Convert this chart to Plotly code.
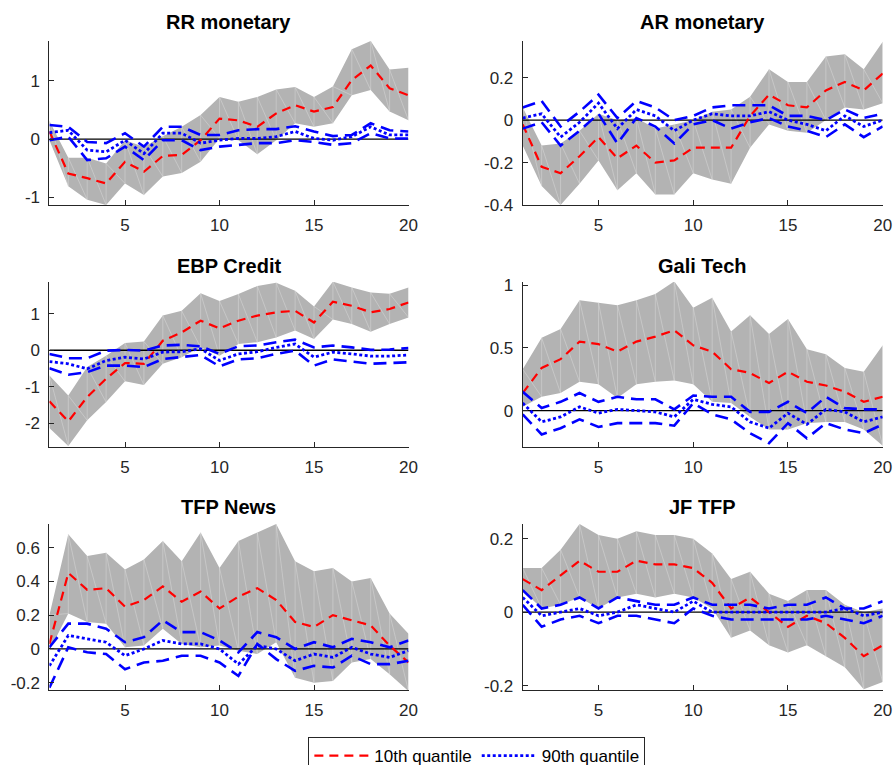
import plotly.graph_objects as go

W, H = 893, 765

x = list(range(1, 21))

titles = ["RR monetary", "AR monetary", "EBP Credit", "Gali Tech", "TFP News", "JF TFP"]
xtick_vals = [5, 10, 15, 20]

# ---------------- RR monetary ----------------
rr_band_hi = [0.31, -0.32, -0.32, -0.42, -0.02, -0.13, 0.05, 0.21, 0.41, 0.72, 0.64, 0.72, 0.85, 0.89, 0.72, 0.90, 1.54, 1.68, 1.19, 1.22]
rr_band_lo = [-0.02, -0.81, -1.04, -1.13, -0.76, -0.96, -0.64, -0.58, -0.39, 0.01, -0.02, -0.26, -0.02, 0.27, 0.21, 0.27, 0.75, 0.84, 0.47, 0.32]
rr_q10 = [0.13, -0.59, -0.67, -0.76, -0.39, -0.56, -0.29, -0.27, -0.02, 0.35, 0.32, 0.21, 0.44, 0.58, 0.47, 0.55, 1.01, 1.26, 0.87, 0.75]
rr_q90 = [0.11, 0.15, -0.19, -0.22, -0.02, -0.25, 0.10, 0.10, -0.07, -0.02, 0.01, 0.01, 0.04, 0.13, 0.01, -0.02, 0.04, 0.21, 0.07, 0.07]
rr_q90_hi = [0.24, 0.21, -0.05, -0.07, 0.10, -0.13, 0.21, 0.21, 0.07, 0.07, 0.15, 0.17, 0.17, 0.22, 0.13, 0.05, 0.07, 0.27, 0.15, 0.13]
rr_q90_lo = [-0.02, 0.04, -0.36, -0.33, -0.13, -0.36, -0.02, -0.02, -0.19, -0.13, -0.10, -0.07, -0.07, -0.02, -0.05, -0.10, -0.07, 0.10, 0.01, 0.01]
rr_yticks = [-1, 0, 1]
rr_yticktext = ["-1", "0", "1"]

# ---------------- AR monetary ----------------
ar_band_hi = [0.06, -0.12, -0.11, -0.05, 0.03, 0.00, 0.01, -0.04, -0.02, 0.00, 0.04, 0.05, 0.11, 0.24, 0.18, 0.18, 0.30, 0.31, 0.24, 0.37]
ar_band_lo = [-0.12, -0.31, -0.40, -0.30, -0.19, -0.33, -0.25, -0.35, -0.35, -0.25, -0.28, -0.30, -0.13, -0.02, -0.05, -0.06, 0.00, 0.06, 0.05, 0.08]
ar_q10 = [-0.02, -0.22, -0.25, -0.17, -0.08, -0.18, -0.12, -0.20, -0.19, -0.13, -0.13, -0.13, 0.02, 0.12, 0.07, 0.06, 0.14, 0.18, 0.14, 0.22]
ar_q90 = [0.01, 0.03, -0.08, -0.01, 0.08, -0.04, 0.05, 0.02, -0.05, 0.00, 0.03, 0.02, 0.02, 0.04, 0.00, -0.02, -0.05, 0.02, -0.03, 0.00]
ar_q90_hi = [0.06, 0.09, -0.03, 0.04, 0.12, 0.01, 0.09, 0.06, 0.00, 0.02, 0.06, 0.07, 0.07, 0.07, 0.02, 0.02, 0.00, 0.05, 0.01, 0.03]
ar_q90_lo = [-0.04, -0.01, -0.12, -0.05, 0.03, -0.11, 0.01, -0.03, -0.11, -0.02, 0.00, -0.04, -0.01, 0.01, -0.03, -0.05, -0.08, -0.02, -0.08, -0.03]
ar_yticks = [-0.4, -0.2, 0, 0.2]
ar_yticktext = ["-0.4", "-0.2", "0", "0.2"]

# ---------------- EBP Credit ----------------
ebp_band_hi = [-0.69, -1.24, -0.46, -0.15, 0.20, 0.24, 0.95, 1.08, 1.56, 1.35, 1.54, 1.76, 1.85, 1.63, 1.20, 1.88, 1.72, 1.58, 1.55, 1.72]
ebp_band_lo = [-2.13, -2.62, -1.92, -1.42, -0.85, -0.95, -0.37, -0.19, 0.08, -0.15, 0.17, 0.22, 0.35, 0.54, 0.31, 0.84, 0.72, 0.51, 0.72, 0.90]
ebp_q10 = [-1.40, -1.95, -1.28, -0.78, -0.35, -0.37, 0.26, 0.49, 0.81, 0.60, 0.81, 0.95, 1.04, 1.08, 0.76, 1.33, 1.22, 1.04, 1.13, 1.31]
ebp_q90 = [-0.31, -0.37, -0.51, -0.28, -0.19, -0.24, -0.05, -0.04, 0.04, -0.28, -0.10, -0.04, 0.08, 0.17, -0.19, -0.05, -0.10, -0.16, -0.16, -0.13]
ebp_q90_hi = [-0.10, -0.22, -0.22, -0.01, 0.01, -0.01, 0.13, 0.15, 0.11, -0.10, 0.11, 0.13, 0.22, 0.29, 0.08, 0.13, 0.08, 0.01, 0.02, 0.06]
ebp_q90_lo = [-0.49, -0.67, -0.60, -0.42, -0.42, -0.46, -0.24, -0.19, -0.13, -0.44, -0.25, -0.22, -0.10, -0.01, -0.42, -0.25, -0.31, -0.37, -0.35, -0.33]
ebp_yticks = [-2, -1, 0, 1]
ebp_yticktext = ["-2", "-1", "0", "1"]

# ---------------- Gali Tech ----------------
gali_band_hi = [0.33, 0.58, 0.65, 0.88, 0.86, 0.84, 0.88, 0.93, 1.03, 0.82, 0.90, 0.63, 0.76, 0.61, 0.73, 0.49, 0.45, 0.34, 0.31, 0.52]
gali_band_lo = [0.03, 0.11, 0.14, 0.23, 0.21, 0.10, 0.21, 0.23, 0.24, 0.21, 0.07, 0.06, -0.05, -0.15, -0.15, -0.10, -0.09, -0.09, -0.15, -0.28]
gali_q10 = [0.14, 0.34, 0.41, 0.55, 0.53, 0.47, 0.55, 0.59, 0.64, 0.52, 0.47, 0.33, 0.30, 0.22, 0.31, 0.23, 0.20, 0.15, 0.07, 0.11]
gali_q90 = [0.06, -0.09, -0.05, 0.03, -0.02, 0.01, 0.00, -0.01, -0.05, 0.09, 0.05, 0.03, -0.09, -0.14, -0.02, -0.11, 0.01, -0.01, -0.09, -0.05]
gali_q90_hi = [0.15, 0.02, 0.07, 0.14, 0.07, 0.11, 0.09, 0.09, 0.01, 0.12, 0.11, 0.11, -0.01, -0.01, 0.07, -0.02, 0.11, 0.02, 0.01, 0.01]
gali_q90_lo = [-0.03, -0.19, -0.14, -0.07, -0.13, -0.10, -0.10, -0.10, -0.12, 0.06, -0.03, -0.07, -0.18, -0.26, -0.10, -0.22, -0.10, -0.15, -0.18, -0.11]
gali_yticks = [0, 0.5, 1]
gali_yticktext = ["0", "0.5", "1"]

# ---------------- TFP News ----------------
news_band_hi = [0.20, 0.68, 0.55, 0.57, 0.47, 0.53, 0.64, 0.52, 0.69, 0.48, 0.64, 0.69, 0.74, 0.52, 0.46, 0.48, 0.40, 0.42, 0.21, 0.09]
news_band_lo = [-0.01, 0.21, 0.16, 0.15, 0.01, 0.02, 0.12, 0.03, 0.01, 0.02, -0.01, -0.03, 0.04, -0.17, -0.20, -0.19, -0.08, -0.06, -0.15, -0.25]
news_q10 = [0.03, 0.45, 0.35, 0.36, 0.25, 0.29, 0.37, 0.28, 0.34, 0.24, 0.31, 0.36, 0.29, 0.16, 0.13, 0.20, 0.17, 0.14, 0.02, -0.08]
news_q90 = [-0.10, 0.08, 0.06, 0.04, -0.04, 0.00, 0.05, 0.03, 0.03, 0.00, -0.09, 0.02, 0.00, -0.07, -0.03, -0.05, 0.01, -0.03, -0.05, -0.01]
news_q90_hi = [0.01, 0.15, 0.15, 0.12, 0.04, 0.07, 0.17, 0.10, 0.10, 0.05, -0.02, 0.10, 0.07, 0.00, 0.04, 0.01, 0.06, 0.04, 0.01, 0.05]
news_q90_lo = [-0.23, 0.01, -0.02, -0.03, -0.12, -0.08, -0.07, -0.04, -0.04, -0.08, -0.16, 0.03, -0.06, -0.13, -0.10, -0.11, -0.04, -0.09, -0.09, -0.07]
news_yticks = [-0.2, 0, 0.2, 0.4, 0.6]
news_yticktext = ["-0.2", "0", "0.2", "0.4", "0.6"]

# ---------------- JF TFP ----------------
jf_band_hi = [0.12, 0.12, 0.17, 0.24, 0.21, 0.20, 0.22, 0.21, 0.21, 0.20, 0.16, 0.09, 0.11, 0.05, 0.03, 0.06, 0.06, 0.02, 0.00, 0.01]
jf_band_lo = [0.06, 0.01, 0.02, 0.04, 0.01, 0.04, 0.05, 0.04, 0.05, 0.04, 0.01, -0.07, -0.05, -0.09, -0.11, -0.09, -0.12, -0.15, -0.21, -0.19]
jf_q10 = [0.09, 0.06, 0.10, 0.14, 0.11, 0.11, 0.14, 0.13, 0.13, 0.12, 0.08, 0.01, 0.04, 0.00, -0.04, -0.01, -0.03, -0.07, -0.12, -0.09]
jf_q90 = [0.04, -0.01, 0.00, 0.01, -0.01, 0.00, 0.02, 0.01, 0.00, 0.03, 0.00, 0.00, 0.00, 0.00, 0.00, 0.00, 0.00, 0.01, -0.01, 0.00]
jf_q90_hi = [0.06, 0.01, 0.02, 0.04, 0.01, 0.04, 0.03, 0.02, 0.02, 0.04, 0.02, 0.02, 0.02, 0.01, 0.02, 0.02, 0.04, 0.01, 0.01, 0.03]
jf_q90_lo = [0.02, -0.04, -0.02, -0.01, -0.03, -0.01, -0.01, -0.02, -0.03, 0.01, -0.01, -0.02, -0.02, -0.02, -0.02, -0.02, -0.01, -0.02, -0.03, -0.01]
jf_yticks = [-0.2, 0, 0.2]
jf_yticktext = ["-0.2", "0", "0.2"]

legend_names = ["10th quantile", "90th quantile"]

panels = [
    (rr_band_hi, rr_band_lo, rr_q10, rr_q90, rr_q90_hi, rr_q90_lo, rr_yticks, rr_yticktext, [-1.13, 1.68]),
    (ar_band_hi, ar_band_lo, ar_q10, ar_q90, ar_q90_hi, ar_q90_lo, ar_yticks, ar_yticktext, [-0.40, 0.373]),
    (ebp_band_hi, ebp_band_lo, ebp_q10, ebp_q90, ebp_q90_hi, ebp_q90_lo, ebp_yticks, ebp_yticktext, [-2.65, 1.87]),
    (gali_band_hi, gali_band_lo, gali_q10, gali_q90, gali_q90_hi, gali_q90_lo, gali_yticks, gali_yticktext, [-0.29, 1.025]),
    (news_band_hi, news_band_lo, news_q10, news_q90, news_q90_hi, news_q90_lo, news_yticks, news_yticktext, [-0.243, 0.74]),
    (jf_band_hi, jf_band_lo, jf_q10, jf_q90, jf_q90_hi, jf_q90_lo, jf_yticks, jf_yticktext, [-0.212, 0.24]),
]

# layout geometry (pixels)
col_x = [(49.4, 408.5), (522.7, 882.7)]
row_y = [(41, 205), (282, 447), (524, 690)]
title_y = [22, 266, 507]

AX = "#262626"
GRAY = "#b3b3b3"
FONT = "Liberation Sans, Arial, Helvetica, sans-serif"
TICK_SIZE = 17

fig = go.Figure()
layout = dict(
    width=W, height=H,
    margin=dict(l=0, r=0, t=0, b=0, autoexpand=False),
    paper_bgcolor="white", plot_bgcolor="white",
    font=dict(family=FONT, size=TICK_SIZE, color=AX),
    showlegend=True,
    legend=dict(
        orientation="h", x=0.534, xanchor="center", y=1 - 737 / H, yanchor="top",
        bordercolor=AX, borderwidth=1, bgcolor="white",
        font=dict(family=FONT, size=17, color="black"),
        itemwidth=55,
    ),
    annotations=[],
)

for k, (bhi, blo, q10, q90, q90hi, q90lo, yt, ytt, yr) in enumerate(panels):
    r, c = divmod(k, 2)
    idx = "" if k == 0 else str(k + 1)
    xa, ya = "x" + idx, "y" + idx
    x0, x1 = col_x[c]
    yt0, yb0 = row_y[r]
    layout["xaxis" + idx] = dict(
        domain=[x0 / W, x1 / W], anchor=ya, range=[1, 20],
        tickvals=xtick_vals, ticktext=[str(v) for v in xtick_vals],
        ticks="inside", ticklen=5, tickcolor=AX, showline=True, linecolor=AX, linewidth=1,
        showgrid=False, zeroline=False, tickfont=dict(size=TICK_SIZE, color=AX),
        ticklabelstandoff=5,
    )
    layout["yaxis" + idx] = dict(
        domain=[1 - yb0 / H, 1 - yt0 / H], anchor=xa, range=yr,
        tickvals=yt, ticktext=ytt,
        ticks="inside", ticklen=5, tickcolor=AX, showline=True, linecolor=AX, linewidth=1,
        showgrid=False, zeroline=False, tickfont=dict(size=TICK_SIZE, color=AX),
        ticklabelstandoff=5,
    )
    layout["annotations"].append(dict(
        text="<b>%s</b>" % titles[k], x=(x0 + x1) / 2 / W, y=1 - title_y[r] / H,
        xref="paper", yref="paper", xanchor="center", yanchor="middle",
        showarrow=False, font=dict(family=FONT, size=20, color="black"),
    ))

    # gray band
    fig.add_trace(go.Scatter(
        x=x + x[::-1], y=bhi + blo[::-1], xaxis=xa, yaxis=ya,
        fill="toself", fillcolor=GRAY, line=dict(width=0, color=GRAY),
        mode="lines", showlegend=False, hoverinfo="skip",
    ))
    # faint triangulation edges of the band
    mx, my = [], []
    for i in range(len(x)):
        mx += [x[i], x[i], None]
        my += [blo[i], bhi[i], None]
        if i + 1 < len(x):
            mx += [x[i], x[i + 1], None]
            my += [bhi[i], blo[i + 1], None]
    fig.add_trace(go.Scatter(
        x=mx, y=my, xaxis=xa, yaxis=ya, mode="lines",
        line=dict(width=0.7, color="rgba(225,225,225,0.6)"),
        showlegend=False, hoverinfo="skip",
    ))
    # zero line
    fig.add_trace(go.Scatter(
        x=[x[0], x[-1]], y=[0, 0], xaxis=xa, yaxis=ya, mode="lines",
        line=dict(width=1.3, color="black"), showlegend=False, hoverinfo="skip",
    ))
    # red dashed 10th quantile
    fig.add_trace(go.Scatter(
        x=x, y=q10, xaxis=xa, yaxis=ya, mode="lines", name=legend_names[0],
        line=dict(width=2.2, color="#ff0000", dash="9px,6px"),
        showlegend=(k == 0), legendrank=1,
    ))
    # blue dashed bands
    for band in (q90hi, q90lo):
        fig.add_trace(go.Scatter(
            x=x, y=band, xaxis=xa, yaxis=ya, mode="lines",
            line=dict(width=2.6, color="#0000ff", dash="13px,7px"),
            showlegend=False, hoverinfo="skip",
        ))
    # blue dotted 90th quantile
    fig.add_trace(go.Scatter(
        x=x, y=q90, xaxis=xa, yaxis=ya, mode="lines", name=legend_names[1],
        line=dict(width=2.8, color="#0000ff", dash="3px,2.5px"),
        showlegend=(k == 0), legendrank=2,
    ))

fig.update_layout(**layout)
fig.write_html("out.html")
